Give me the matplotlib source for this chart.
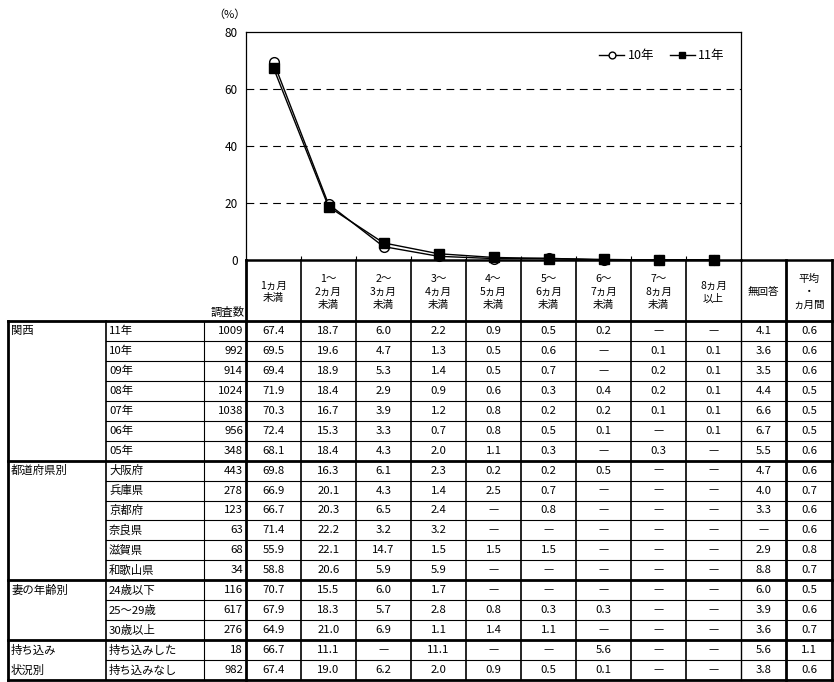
import matplotlib
matplotlib.use("Agg")
import matplotlib.pyplot as plt

plt.rcParams['font.family'] = ['Noto Sans CJK JP', 'DejaVu Sans']

# ---------------- data ----------------
col_headers = ["1ヵ月\n未満", "1～\n2ヵ月\n未満", "2～\n3ヵ月\n未満", "3～\n4ヵ月\n未満",
               "4～\n5ヵ月\n未満", "5～\n6ヵ月\n未満", "6～\n7ヵ月\n未満", "7～\n8ヵ月\n未満",
               "8ヵ月\n以上", "無回答", "平均\n・\nヵ月間"]
groups = ["関西", "都道府県別", "妻の年齢別", "持ち込み\n状況別"]
group_sizes = [7, 6, 3, 2]
row_labels = ["11年", "10年", "09年", "08年", "07年", "06年", "05年",
              "大阪府", "兵庫県", "京都府", "奈良県", "滋賀県", "和歌山県",
              "24歳以下", "25～29歳", "30歳以上",
              "持ち込みした", "持ち込みなし"]
counts = [1009, 992, 914, 1024, 1038, 956, 348,
          443, 278, 123, 63, 68, 34,
          116, 617, 276,
          18, 982]
N = None
values = [
    [67.4, 18.7, 6.0, 2.2, 0.9, 0.5, 0.2, N, N, 4.1, 0.6],
    [69.5, 19.6, 4.7, 1.3, 0.5, 0.6, N, 0.1, 0.1, 3.6, 0.6],
    [69.4, 18.9, 5.3, 1.4, 0.5, 0.7, N, 0.2, 0.1, 3.5, 0.6],
    [71.9, 18.4, 2.9, 0.9, 0.6, 0.3, 0.4, 0.2, 0.1, 4.4, 0.5],
    [70.3, 16.7, 3.9, 1.2, 0.8, 0.2, 0.2, 0.1, 0.1, 6.6, 0.5],
    [72.4, 15.3, 3.3, 0.7, 0.8, 0.5, 0.1, N, 0.1, 6.7, 0.5],
    [68.1, 18.4, 4.3, 2.0, 1.1, 0.3, N, 0.3, N, 5.5, 0.6],
    [69.8, 16.3, 6.1, 2.3, 0.2, 0.2, 0.5, N, N, 4.7, 0.6],
    [66.9, 20.1, 4.3, 1.4, 2.5, 0.7, N, N, N, 4.0, 0.7],
    [66.7, 20.3, 6.5, 2.4, N, 0.8, N, N, N, 3.3, 0.6],
    [71.4, 22.2, 3.2, 3.2, N, N, N, N, N, N, 0.6],
    [55.9, 22.1, 14.7, 1.5, 1.5, 1.5, N, N, N, 2.9, 0.8],
    [58.8, 20.6, 5.9, 5.9, N, N, N, N, N, 8.8, 0.7],
    [70.7, 15.5, 6.0, 1.7, N, N, N, N, N, 6.0, 0.5],
    [67.9, 18.3, 5.7, 2.8, 0.8, 0.3, 0.3, N, N, 3.9, 0.6],
    [64.9, 21.0, 6.9, 1.1, 1.4, 1.1, N, N, N, 3.6, 0.7],
    [66.7, 11.1, N, 11.1, N, N, 5.6, N, N, 5.6, 1.1],
    [67.4, 19.0, 6.2, 2.0, 0.9, 0.5, 0.1, N, N, 3.8, 0.6],
]
series_names = ["10年", "11年"]
series_rows = [1, 0]          # rows of the table plotted in the chart
n_cat = 9                     # month categories in the chart
y_ticks = [0, 20, 40, 60, 80]

# ---------------- layout (pixels) ----------------
W, H = 834, 682
fig = plt.figure(figsize=(W / 100, H / 100), dpi=100)
fig.patch.set_facecolor("white")

ov = fig.add_axes([0, 0, 1, 1], zorder=0)
ov.set_xlim(0, W)
ov.set_ylim(H, 0)
ov.axis("off")

x_left, x_cat, x_cnt, x_data = 8, 106, 204, 246
col_w = 55
x_month_end = x_data + col_w * n_cat  # 741
x_na, x_avg, x_right = x_month_end, 786, 832
col_edges = [x_data + col_w * i for i in range(n_cat + 1)] + [x_avg, x_right]
y_plot_top, y_axis = 32, 260
y_tab_top, y_tab_bot = 321, 680
n_rows = len(row_labels)
rh = (y_tab_bot - y_tab_top) / n_rows

FS = 8.2      # table body font size
FH = 7.6      # header font size

# ---------------- chart ----------------
ax = fig.add_axes([x_data / W, 1 - y_axis / H, (x_month_end - x_data) / W, (y_axis - y_plot_top) / H],
                  zorder=2)
ax.patch.set_alpha(0)
xs = list(range(n_cat))
styles = [dict(marker="o", mfc="white", mec="black", ms=7, mew=1.0),
          dict(marker="s", mfc="black", mec="black", ms=7, mew=1.0)]
for name, r, st in zip(series_names, series_rows, styles):
    ys = [v if v is not None else 0.0 for v in values[r][:n_cat]]
    ax.plot(xs, ys, color="black", lw=1.0, label=name, clip_on=False, **st)
ax.set_xlim(-0.5, n_cat - 0.5)
ax.set_ylim(0, 80)
ax.set_yticks(y_ticks)
ax.set_yticklabels([str(t) for t in y_ticks], fontsize=8.5)
ax.set_xticks([i + 0.5 for i in range(n_cat - 1)])
ax.set_xticklabels([])
ax.tick_params(axis="x", direction="in", length=3, width=0.8)
ax.tick_params(axis="y", length=0, pad=6)
for t in [20, 40, 60]:
    ax.axhline(t, color="black", lw=0.8, ls=(0, (7, 5)))
for s in ["left", "top", "right"]:
    ax.spines[s].set_linewidth(0.9)
ax.spines["bottom"].set_linewidth(1.8)
leg = ax.legend(loc="upper right", bbox_to_anchor=(0.99, 0.975), ncol=2, frameon=False,
                fontsize=9, handlelength=2.0, handletextpad=0.3, columnspacing=1.2,
                markerscale=0.7)
ov.text(229, 15, "（%）", ha="center", va="center", fontsize=8)

# ---------------- table lines ----------------
def hline(y, x0, x1, lw):
    ov.plot([x0, x1], [y, y], color="black", lw=lw, solid_capstyle="projecting")

def vline(x, y0, y1, lw):
    ov.plot([x, x], [y0, y1], color="black", lw=lw, solid_capstyle="projecting")

# top border for 無回答 / 平均 headers
hline(y_axis, x_month_end, x_right, 1.8)
hline(y_tab_top, x_left, x_right, 2.0)
hline(y_tab_bot, x_left, x_right, 2.0)

r = 0
group_bounds = []
for g in group_sizes:
    group_bounds.append(r)
    r += g
for i in range(1, n_rows):
    y = y_tab_top + i * rh
    if i in group_bounds:
        hline(y, x_left, x_right, 2.0)
    else:
        hline(y, x_cat, x_right, 0.8)

vline(x_left, y_tab_top, y_tab_bot, 2.0)
vline(x_cat, y_tab_top, y_tab_bot, 1.2)
vline(x_cnt, y_tab_top, y_tab_bot, 0.8)
vline(x_data, y_axis, y_tab_bot, 2.0)
for xe in col_edges[1:n_cat]:
    vline(xe, y_axis, y_tab_bot, 1.2)
vline(x_na, y_axis, y_tab_bot, 1.0)
vline(x_avg, y_axis, y_tab_bot, 2.0)
vline(x_right, y_axis, y_tab_bot, 2.0)

# ---------------- headers ----------------
hdr_y = 292
for j, h in enumerate(col_headers):
    cx = (col_edges[j] + col_edges[j + 1]) / 2
    ov.text(cx, hdr_y, h, ha="center", va="center", fontsize=FH, linespacing=1.35)
ov.text(x_data - 1, 312, "調査数", ha="right", va="center", fontsize=FS)

# ---------------- body ----------------
r = 0
for g, n in zip(groups, group_sizes):
    lines = g.split("\n")
    for k, ln in enumerate(lines):
        ov.text(x_left + 3, y_tab_top + (r + k + 0.5) * rh, ln, ha="left", va="center", fontsize=FS)
    r += n

for i in range(n_rows):
    cy = y_tab_top + (i + 0.5) * rh
    ov.text(x_cat + 3, cy, row_labels[i], ha="left", va="center", fontsize=FS)
    ov.text(x_data - 3, cy, str(counts[i]), ha="right", va="center", fontsize=FS)
    for j, v in enumerate(values[i]):
        cx = (col_edges[j] + col_edges[j + 1]) / 2
        ov.text(cx, cy, "—" if v is None else f"{v:.1f}", ha="center", va="center", fontsize=FS)

fig.savefig("out.png", dpi=100)
